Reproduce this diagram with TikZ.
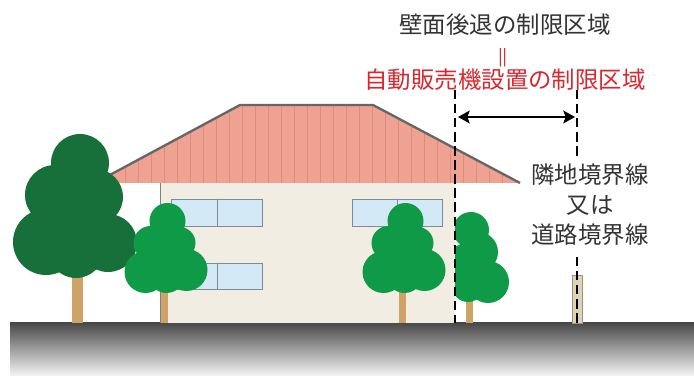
\documentclass[tikz,border=0pt]{standalone}
\usepackage{fontspec}
\setmainfont{Noto Sans CJK JP}
\usetikzlibrary{arrows.meta}

\definecolor{inkgray}{HTML}{333333}
\definecolor{signred}{HTML}{D9272E}
\definecolor{roofpink}{HTML}{EFA291}
\definecolor{roofline}{HTML}{DE8D7C}
\definecolor{eaves}{HTML}{666666}
\definecolor{wallcream}{HTML}{F1EDE3}
\definecolor{glass}{HTML}{D3E9F6}
\definecolor{frame}{HTML}{7D8B98}
\definecolor{darkleaf}{HTML}{17703A}
\definecolor{leafgreen}{HTML}{0F9A48}
\definecolor{trunkbrown}{HTML}{CFA266}
\definecolor{postbeige}{HTML}{DDD3B8}
\definecolor{grounddark}{HTML}{4A4A4A}

\tikzset{
  window/.style={fill=glass, draw=frame, line width=0.6pt},
  limit/.style={black, line width=1.2pt, dash pattern=on 8pt off 4pt},
  label/.style={text=inkgray, font=\fontsize{20}{25.5}\selectfont, align=center, inner sep=0pt},
  smalltree/.pic={
    \fill[trunkbrown] (-3.5,-38) rectangle (3.5,0);
    \fill[leafgreen] (3,-102) circle (18) (-14,-80) circle (17) (15,-80) circle (16)
      (-19,-51) circle (21) (22,-53) circle (21) (2,-48) circle (18) (1,-72) circle (20);
  }
}

\begin{document}
\begin{tikzpicture}[x=0.03cm, y=-0.03cm]
\useasboundingbox (0,0) rectangle (694,376);

% ground
\shade[top color=grounddark, bottom color=white!96!black] (10,323) rectangle (694,376);
\draw[grounddark, line width=0.8pt] (10,323) -- (694,323);

% house
\fill[wallcream] (160,183) rectangle (455,323);
\draw[gray, line width=0.5pt] (160,183) -- (160,323);
\draw[window] (171,199) rectangle (262,226) (217,199) -- (217,226);
\draw[window] (171,263) rectangle (262,289) (217,263) -- (217,289);
\draw[window] (352,199) rectangle (442,226) (397,199) -- (397,226);

% roof with its boards
\begin{scope}
  \clip (95,183) -- (240,105) -- (373,105) -- (520,183) -- cycle;
  \fill[roofpink] (90,100) rectangle (525,183);
  \foreach \x in {112,125,...,515}
    \draw[roofline, line width=0.4pt] (\x,100) -- (\x,183);
\end{scope}
\draw[eaves, line width=2pt] (95,183) -- (240,105) -- (373,105) -- (520,183);

% big tree on the left
\fill[trunkbrown] (72,255) rectangle (83,323);
\fill[darkleaf] (80,163) circle (29) (55,195) circle (30) (95,197) circle (28)
  (46,242) circle (33) (76,250) circle (28) (108,243) circle (29) (80,215) circle (32);

% small trees
\pic at (164.5,323) {smalltree};
\pic at (402.5,323) {smalltree};
\begin{scope}
  \clip (455,190) rectangle (530,323);
  \fill[trunkbrown] (466,300) rectangle (473,323);
  \fill[leafgreen] (471,230) circle (18) (478,252) circle (20) (488,282) circle (21)
    (466,268) circle (24) (468,286) circle (16);
\end{scope}

% boundary post
\fill[postbeige, draw=postbeige!70!black, line width=0.4pt] (572,275) rectangle (582,323);

% limit lines and the distance between them
\coordinate (wall top) at (455,90);
\coordinate (wall foot) at (455,323);
\coordinate (line top) at (577,90);
\coordinate (line mid) at (577,158);
\coordinate (line low) at (577,257);
\coordinate (line foot) at (577,323);
\draw[limit] (wall top) -- (wall foot);
\draw[limit] (line top) -- (line mid);
\draw[limit] (line low) -- (line foot);

\coordinate (la) at (458,117);
\coordinate (ra) at (575,117);
\draw[{Stealth[length=10pt,width=11pt,inset=2pt]}-{Stealth[length=10pt,width=11pt,inset=2pt]}, line width=1.2pt] (la) -- (ra);

% texts
\node[label] (setback) at (505,25) {壁面後退の制限区域};
\node[text=signred, rotate=90, font=\fontsize{15}{15}\selectfont, inner sep=0pt] (same) at (505,58) {\scalebox{2.2}[1]{=}};
\node[label, text=signred] (vending) at (505,80) {自動販売機設置の制限区域};
\node[label] (boundary) at (590,205) {隣地境界線\\又は\\道路境界線};
\end{tikzpicture}
\end{document}
